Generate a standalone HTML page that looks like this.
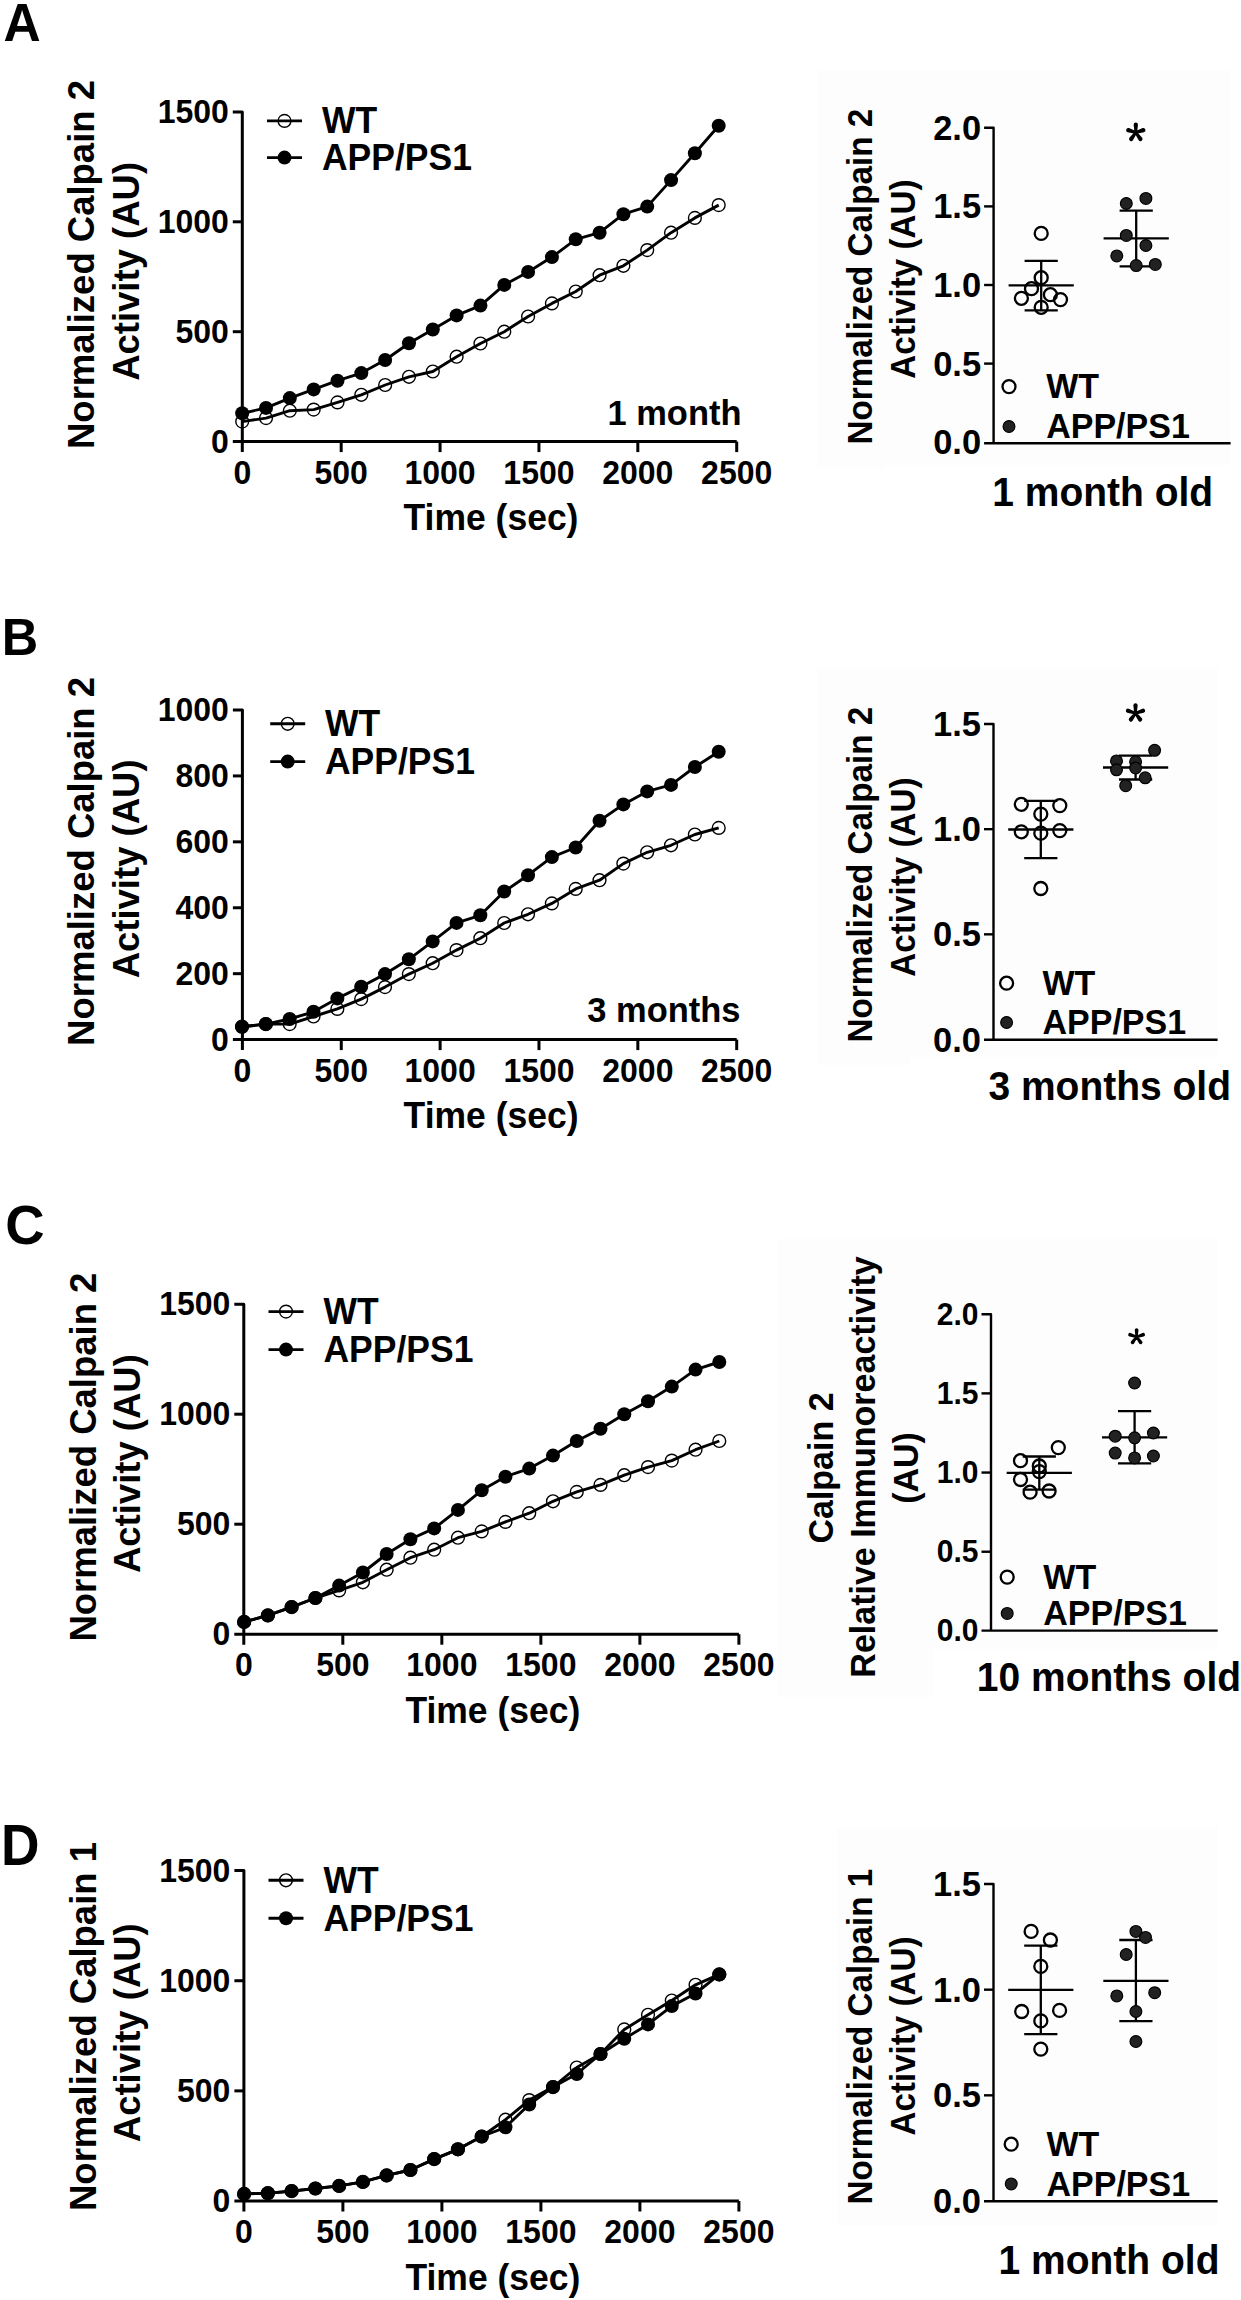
<!DOCTYPE html>
<html><head><meta charset="utf-8"><title>Figure</title>
<style>html,body{margin:0;padding:0;background:#fff;}svg{display:block;}
text{font-family:"Liberation Sans",sans-serif;font-weight:bold;}</style></head>
<body>
<svg width="1241" height="2300" viewBox="0 0 1241 2300" font-family="Liberation Sans, sans-serif" font-weight="bold" fill="#000">
<rect x="0" y="0" width="1241" height="2300" fill="#fff"/>
<rect x="817" y="70.5" width="414" height="394.5" fill="#fdfdfd"/>
<rect x="817" y="465" width="68" height="3" fill="#fdfdfd"/>
<rect x="817" y="668" width="401" height="389" fill="#fdfdfd"/>
<rect x="817" y="1057" width="93" height="8" fill="#fdfdfd"/>
<rect x="777.5" y="1239" width="440.5" height="410" fill="#fdfdfd"/>
<rect x="777.5" y="1649" width="155.5" height="48" fill="#fdfdfd"/>
<rect x="837" y="1827" width="381" height="399" fill="#fdfdfd"/>
<path d="M232.80,111.90 H242.30 V452.10" fill="none" stroke="#000" stroke-width="3.0" stroke-linejoin="round"/>
<line x1="232.80" y1="441.60" x2="736.70" y2="441.60" stroke="#000" stroke-width="3.0"/>
<text transform="translate(228.80,452.80) scale(1,1.035)" font-size="32" text-anchor="end">0</text>
<line x1="232.80" y1="331.70" x2="242.30" y2="331.70" stroke="#000" stroke-width="3.0"/>
<text transform="translate(228.80,342.90) scale(1,1.035)" font-size="32" text-anchor="end">500</text>
<line x1="232.80" y1="221.80" x2="242.30" y2="221.80" stroke="#000" stroke-width="3.0"/>
<text transform="translate(228.80,233.00) scale(1,1.035)" font-size="32" text-anchor="end">1000</text>
<text transform="translate(228.80,123.10) scale(1,1.035)" font-size="32" text-anchor="end">1500</text>
<text transform="translate(242.30,483.60) scale(1,1.035)" font-size="32" text-anchor="middle">0</text>
<line x1="341.18" y1="441.60" x2="341.18" y2="452.10" stroke="#000" stroke-width="3.0"/>
<text transform="translate(341.18,483.60) scale(1,1.035)" font-size="32" text-anchor="middle">500</text>
<line x1="440.06" y1="441.60" x2="440.06" y2="452.10" stroke="#000" stroke-width="3.0"/>
<text transform="translate(440.06,483.60) scale(1,1.035)" font-size="32" text-anchor="middle">1000</text>
<line x1="538.94" y1="441.60" x2="538.94" y2="452.10" stroke="#000" stroke-width="3.0"/>
<text transform="translate(538.94,483.60) scale(1,1.035)" font-size="32" text-anchor="middle">1500</text>
<line x1="637.82" y1="441.60" x2="637.82" y2="452.10" stroke="#000" stroke-width="3.0"/>
<text transform="translate(637.82,483.60) scale(1,1.035)" font-size="32" text-anchor="middle">2000</text>
<line x1="736.70" y1="441.60" x2="736.70" y2="452.10" stroke="#000" stroke-width="3.0"/>
<text transform="translate(736.70,483.60) scale(1,1.035)" font-size="32" text-anchor="middle">2500</text>
<text transform="translate(491.00,530.10) scale(1,1.035)" font-size="35.5" text-anchor="middle">Time (sec)</text>
<polyline points="242.20,421.60 266.02,418.10 289.85,410.70 313.68,409.60 337.50,402.40 361.32,394.80 385.15,385.00 408.98,376.80 432.80,371.50 456.62,356.70 480.45,343.50 504.28,331.70 528.10,316.50 551.92,303.40 575.75,291.50 599.58,275.20 623.40,265.80 647.23,250.10 671.05,232.70 694.88,217.90 718.70,205.10" fill="none" stroke="#000" stroke-width="2.9" stroke-linejoin="round"/>
<circle cx="242.20" cy="421.60" r="6.4" fill="none" stroke="#000" stroke-width="1.4"/>
<circle cx="266.02" cy="418.10" r="6.4" fill="none" stroke="#000" stroke-width="1.4"/>
<circle cx="289.85" cy="410.70" r="6.4" fill="none" stroke="#000" stroke-width="1.4"/>
<circle cx="313.68" cy="409.60" r="6.4" fill="none" stroke="#000" stroke-width="1.4"/>
<circle cx="337.50" cy="402.40" r="6.4" fill="none" stroke="#000" stroke-width="1.4"/>
<circle cx="361.32" cy="394.80" r="6.4" fill="none" stroke="#000" stroke-width="1.4"/>
<circle cx="385.15" cy="385.00" r="6.4" fill="none" stroke="#000" stroke-width="1.4"/>
<circle cx="408.98" cy="376.80" r="6.4" fill="none" stroke="#000" stroke-width="1.4"/>
<circle cx="432.80" cy="371.50" r="6.4" fill="none" stroke="#000" stroke-width="1.4"/>
<circle cx="456.62" cy="356.70" r="6.4" fill="none" stroke="#000" stroke-width="1.4"/>
<circle cx="480.45" cy="343.50" r="6.4" fill="none" stroke="#000" stroke-width="1.4"/>
<circle cx="504.28" cy="331.70" r="6.4" fill="none" stroke="#000" stroke-width="1.4"/>
<circle cx="528.10" cy="316.50" r="6.4" fill="none" stroke="#000" stroke-width="1.4"/>
<circle cx="551.92" cy="303.40" r="6.4" fill="none" stroke="#000" stroke-width="1.4"/>
<circle cx="575.75" cy="291.50" r="6.4" fill="none" stroke="#000" stroke-width="1.4"/>
<circle cx="599.58" cy="275.20" r="6.4" fill="none" stroke="#000" stroke-width="1.4"/>
<circle cx="623.40" cy="265.80" r="6.4" fill="none" stroke="#000" stroke-width="1.4"/>
<circle cx="647.23" cy="250.10" r="6.4" fill="none" stroke="#000" stroke-width="1.4"/>
<circle cx="671.05" cy="232.70" r="6.4" fill="none" stroke="#000" stroke-width="1.4"/>
<circle cx="694.88" cy="217.90" r="6.4" fill="none" stroke="#000" stroke-width="1.4"/>
<circle cx="718.70" cy="205.10" r="6.4" fill="none" stroke="#000" stroke-width="1.4"/>
<polyline points="242.20,413.30 266.02,407.90 289.85,398.10 313.68,389.40 337.50,380.70 361.32,373.10 385.15,360.00 408.98,343.30 432.80,329.50 456.62,315.40 480.45,305.60 504.28,284.90 528.10,271.90 551.92,257.10 575.75,239.30 599.58,232.70 623.40,214.20 647.23,206.60 671.05,180.10 694.88,153.30 718.70,125.70" fill="none" stroke="#000" stroke-width="2.9" stroke-linejoin="round"/>
<circle cx="242.20" cy="413.30" r="7.0" fill="#000" stroke="none" stroke-width="0"/>
<circle cx="266.02" cy="407.90" r="7.0" fill="#000" stroke="none" stroke-width="0"/>
<circle cx="289.85" cy="398.10" r="7.0" fill="#000" stroke="none" stroke-width="0"/>
<circle cx="313.68" cy="389.40" r="7.0" fill="#000" stroke="none" stroke-width="0"/>
<circle cx="337.50" cy="380.70" r="7.0" fill="#000" stroke="none" stroke-width="0"/>
<circle cx="361.32" cy="373.10" r="7.0" fill="#000" stroke="none" stroke-width="0"/>
<circle cx="385.15" cy="360.00" r="7.0" fill="#000" stroke="none" stroke-width="0"/>
<circle cx="408.98" cy="343.30" r="7.0" fill="#000" stroke="none" stroke-width="0"/>
<circle cx="432.80" cy="329.50" r="7.0" fill="#000" stroke="none" stroke-width="0"/>
<circle cx="456.62" cy="315.40" r="7.0" fill="#000" stroke="none" stroke-width="0"/>
<circle cx="480.45" cy="305.60" r="7.0" fill="#000" stroke="none" stroke-width="0"/>
<circle cx="504.28" cy="284.90" r="7.0" fill="#000" stroke="none" stroke-width="0"/>
<circle cx="528.10" cy="271.90" r="7.0" fill="#000" stroke="none" stroke-width="0"/>
<circle cx="551.92" cy="257.10" r="7.0" fill="#000" stroke="none" stroke-width="0"/>
<circle cx="575.75" cy="239.30" r="7.0" fill="#000" stroke="none" stroke-width="0"/>
<circle cx="599.58" cy="232.70" r="7.0" fill="#000" stroke="none" stroke-width="0"/>
<circle cx="623.40" cy="214.20" r="7.0" fill="#000" stroke="none" stroke-width="0"/>
<circle cx="647.23" cy="206.60" r="7.0" fill="#000" stroke="none" stroke-width="0"/>
<circle cx="671.05" cy="180.10" r="7.0" fill="#000" stroke="none" stroke-width="0"/>
<circle cx="694.88" cy="153.30" r="7.0" fill="#000" stroke="none" stroke-width="0"/>
<circle cx="718.70" cy="125.70" r="7.0" fill="#000" stroke="none" stroke-width="0"/>
<line x1="267.00" y1="120.90" x2="302.00" y2="120.90" stroke="#000" stroke-width="2.9"/>
<circle cx="284.50" cy="120.90" r="6.4" fill="none" stroke="#000" stroke-width="1.4"/>
<line x1="267.00" y1="157.60" x2="302.00" y2="157.60" stroke="#000" stroke-width="2.9"/>
<circle cx="284.50" cy="157.60" r="7.0" fill="#000" stroke="none" stroke-width="0"/>
<text transform="translate(322.00,133.40) scale(1,1.035)" font-size="35.5" text-anchor="start">WT</text>
<text transform="translate(322.00,170.40) scale(1,1.035)" font-size="35.5" text-anchor="start">APP/PS1</text>
<text transform="translate(741.50,425.00) scale(1,1.035)" font-size="34.5" text-anchor="end">1 month</text>
<text transform="translate(3.60,41.40) scale(1.0,1.035)" font-size="51.5">A</text>
<text transform="translate(94.40,264.50) rotate(-90) scale(1,1.035)" font-size="36.5" text-anchor="middle">Normalized Calpain 2</text>
<text transform="translate(138.70,271.40) rotate(-90) scale(1,1.035)" font-size="36.5" text-anchor="middle">Activity (AU)</text>
<path d="M232.90,710.00 H242.40 V1050.10" fill="none" stroke="#000" stroke-width="3.0" stroke-linejoin="round"/>
<line x1="232.90" y1="1039.60" x2="736.70" y2="1039.60" stroke="#000" stroke-width="3.0"/>
<text transform="translate(228.90,1050.80) scale(1,1.035)" font-size="32" text-anchor="end">0</text>
<line x1="232.90" y1="973.68" x2="242.40" y2="973.68" stroke="#000" stroke-width="3.0"/>
<text transform="translate(228.90,984.88) scale(1,1.035)" font-size="32" text-anchor="end">200</text>
<line x1="232.90" y1="907.76" x2="242.40" y2="907.76" stroke="#000" stroke-width="3.0"/>
<text transform="translate(228.90,918.96) scale(1,1.035)" font-size="32" text-anchor="end">400</text>
<line x1="232.90" y1="841.84" x2="242.40" y2="841.84" stroke="#000" stroke-width="3.0"/>
<text transform="translate(228.90,853.04) scale(1,1.035)" font-size="32" text-anchor="end">600</text>
<line x1="232.90" y1="775.92" x2="242.40" y2="775.92" stroke="#000" stroke-width="3.0"/>
<text transform="translate(228.90,787.12) scale(1,1.035)" font-size="32" text-anchor="end">800</text>
<text transform="translate(228.90,721.20) scale(1,1.035)" font-size="32" text-anchor="end">1000</text>
<text transform="translate(242.40,1081.60) scale(1,1.035)" font-size="32" text-anchor="middle">0</text>
<line x1="341.26" y1="1039.60" x2="341.26" y2="1050.10" stroke="#000" stroke-width="3.0"/>
<text transform="translate(341.26,1081.60) scale(1,1.035)" font-size="32" text-anchor="middle">500</text>
<line x1="440.12" y1="1039.60" x2="440.12" y2="1050.10" stroke="#000" stroke-width="3.0"/>
<text transform="translate(440.12,1081.60) scale(1,1.035)" font-size="32" text-anchor="middle">1000</text>
<line x1="538.98" y1="1039.60" x2="538.98" y2="1050.10" stroke="#000" stroke-width="3.0"/>
<text transform="translate(538.98,1081.60) scale(1,1.035)" font-size="32" text-anchor="middle">1500</text>
<line x1="637.84" y1="1039.60" x2="637.84" y2="1050.10" stroke="#000" stroke-width="3.0"/>
<text transform="translate(637.84,1081.60) scale(1,1.035)" font-size="32" text-anchor="middle">2000</text>
<line x1="736.70" y1="1039.60" x2="736.70" y2="1050.10" stroke="#000" stroke-width="3.0"/>
<text transform="translate(736.70,1081.60) scale(1,1.035)" font-size="32" text-anchor="middle">2500</text>
<text transform="translate(491.05,1128.10) scale(1,1.035)" font-size="35.5" text-anchor="middle">Time (sec)</text>
<polyline points="242.00,1026.70 265.83,1024.10 289.67,1024.10 313.50,1016.50 337.34,1008.90 361.18,999.10 385.01,987.10 408.85,974.10 432.68,963.20 456.51,950.10 480.35,938.20 504.19,923.00 528.02,914.30 551.86,903.40 575.69,888.90 599.53,880.20 623.36,863.60 647.19,852.30 671.03,845.30 694.87,834.50 718.70,827.90" fill="none" stroke="#000" stroke-width="2.9" stroke-linejoin="round"/>
<circle cx="242.00" cy="1026.70" r="6.4" fill="none" stroke="#000" stroke-width="1.4"/>
<circle cx="265.83" cy="1024.10" r="6.4" fill="none" stroke="#000" stroke-width="1.4"/>
<circle cx="289.67" cy="1024.10" r="6.4" fill="none" stroke="#000" stroke-width="1.4"/>
<circle cx="313.50" cy="1016.50" r="6.4" fill="none" stroke="#000" stroke-width="1.4"/>
<circle cx="337.34" cy="1008.90" r="6.4" fill="none" stroke="#000" stroke-width="1.4"/>
<circle cx="361.18" cy="999.10" r="6.4" fill="none" stroke="#000" stroke-width="1.4"/>
<circle cx="385.01" cy="987.10" r="6.4" fill="none" stroke="#000" stroke-width="1.4"/>
<circle cx="408.85" cy="974.10" r="6.4" fill="none" stroke="#000" stroke-width="1.4"/>
<circle cx="432.68" cy="963.20" r="6.4" fill="none" stroke="#000" stroke-width="1.4"/>
<circle cx="456.51" cy="950.10" r="6.4" fill="none" stroke="#000" stroke-width="1.4"/>
<circle cx="480.35" cy="938.20" r="6.4" fill="none" stroke="#000" stroke-width="1.4"/>
<circle cx="504.19" cy="923.00" r="6.4" fill="none" stroke="#000" stroke-width="1.4"/>
<circle cx="528.02" cy="914.30" r="6.4" fill="none" stroke="#000" stroke-width="1.4"/>
<circle cx="551.86" cy="903.40" r="6.4" fill="none" stroke="#000" stroke-width="1.4"/>
<circle cx="575.69" cy="888.90" r="6.4" fill="none" stroke="#000" stroke-width="1.4"/>
<circle cx="599.53" cy="880.20" r="6.4" fill="none" stroke="#000" stroke-width="1.4"/>
<circle cx="623.36" cy="863.60" r="6.4" fill="none" stroke="#000" stroke-width="1.4"/>
<circle cx="647.19" cy="852.30" r="6.4" fill="none" stroke="#000" stroke-width="1.4"/>
<circle cx="671.03" cy="845.30" r="6.4" fill="none" stroke="#000" stroke-width="1.4"/>
<circle cx="694.87" cy="834.50" r="6.4" fill="none" stroke="#000" stroke-width="1.4"/>
<circle cx="718.70" cy="827.90" r="6.4" fill="none" stroke="#000" stroke-width="1.4"/>
<polyline points="242.00,1026.70 265.83,1024.10 289.67,1019.00 313.50,1011.80 337.34,998.40 361.18,986.70 385.01,974.10 408.85,959.30 432.68,941.40 456.51,922.90 480.35,915.30 504.19,891.50 528.02,875.20 551.86,857.10 575.69,847.50 599.53,820.80 623.36,804.40 647.19,791.40 671.03,784.90 694.87,767.00 718.70,751.80" fill="none" stroke="#000" stroke-width="2.9" stroke-linejoin="round"/>
<circle cx="242.00" cy="1026.70" r="7.0" fill="#000" stroke="none" stroke-width="0"/>
<circle cx="265.83" cy="1024.10" r="7.0" fill="#000" stroke="none" stroke-width="0"/>
<circle cx="289.67" cy="1019.00" r="7.0" fill="#000" stroke="none" stroke-width="0"/>
<circle cx="313.50" cy="1011.80" r="7.0" fill="#000" stroke="none" stroke-width="0"/>
<circle cx="337.34" cy="998.40" r="7.0" fill="#000" stroke="none" stroke-width="0"/>
<circle cx="361.18" cy="986.70" r="7.0" fill="#000" stroke="none" stroke-width="0"/>
<circle cx="385.01" cy="974.10" r="7.0" fill="#000" stroke="none" stroke-width="0"/>
<circle cx="408.85" cy="959.30" r="7.0" fill="#000" stroke="none" stroke-width="0"/>
<circle cx="432.68" cy="941.40" r="7.0" fill="#000" stroke="none" stroke-width="0"/>
<circle cx="456.51" cy="922.90" r="7.0" fill="#000" stroke="none" stroke-width="0"/>
<circle cx="480.35" cy="915.30" r="7.0" fill="#000" stroke="none" stroke-width="0"/>
<circle cx="504.19" cy="891.50" r="7.0" fill="#000" stroke="none" stroke-width="0"/>
<circle cx="528.02" cy="875.20" r="7.0" fill="#000" stroke="none" stroke-width="0"/>
<circle cx="551.86" cy="857.10" r="7.0" fill="#000" stroke="none" stroke-width="0"/>
<circle cx="575.69" cy="847.50" r="7.0" fill="#000" stroke="none" stroke-width="0"/>
<circle cx="599.53" cy="820.80" r="7.0" fill="#000" stroke="none" stroke-width="0"/>
<circle cx="623.36" cy="804.40" r="7.0" fill="#000" stroke="none" stroke-width="0"/>
<circle cx="647.19" cy="791.40" r="7.0" fill="#000" stroke="none" stroke-width="0"/>
<circle cx="671.03" cy="784.90" r="7.0" fill="#000" stroke="none" stroke-width="0"/>
<circle cx="694.87" cy="767.00" r="7.0" fill="#000" stroke="none" stroke-width="0"/>
<circle cx="718.70" cy="751.80" r="7.0" fill="#000" stroke="none" stroke-width="0"/>
<line x1="270.20" y1="723.80" x2="305.20" y2="723.80" stroke="#000" stroke-width="2.9"/>
<circle cx="287.70" cy="723.80" r="6.4" fill="none" stroke="#000" stroke-width="1.4"/>
<line x1="270.20" y1="761.60" x2="305.20" y2="761.60" stroke="#000" stroke-width="2.9"/>
<circle cx="287.70" cy="761.60" r="7.0" fill="#000" stroke="none" stroke-width="0"/>
<text transform="translate(325.00,736.30) scale(1,1.035)" font-size="35.5" text-anchor="start">WT</text>
<text transform="translate(325.00,774.40) scale(1,1.035)" font-size="35.5" text-anchor="start">APP/PS1</text>
<text transform="translate(740.50,1022.00) scale(1,1.035)" font-size="34.5" text-anchor="end">3 months</text>
<text transform="translate(1.80,655.40) scale(1.0,1.035)" font-size="50.5">B</text>
<text transform="translate(94.40,861.40) rotate(-90) scale(1,1.035)" font-size="36.5" text-anchor="middle">Normalized Calpain 2</text>
<text transform="translate(138.70,868.90) rotate(-90) scale(1,1.035)" font-size="36.5" text-anchor="middle">Activity (AU)</text>
<path d="M234.30,1304.20 H243.80 V1644.70" fill="none" stroke="#000" stroke-width="3.0" stroke-linejoin="round"/>
<line x1="234.30" y1="1634.20" x2="738.90" y2="1634.20" stroke="#000" stroke-width="3.0"/>
<text transform="translate(230.30,1645.40) scale(1,1.035)" font-size="32" text-anchor="end">0</text>
<line x1="234.30" y1="1524.20" x2="243.80" y2="1524.20" stroke="#000" stroke-width="3.0"/>
<text transform="translate(230.30,1535.40) scale(1,1.035)" font-size="32" text-anchor="end">500</text>
<line x1="234.30" y1="1414.20" x2="243.80" y2="1414.20" stroke="#000" stroke-width="3.0"/>
<text transform="translate(230.30,1425.40) scale(1,1.035)" font-size="32" text-anchor="end">1000</text>
<text transform="translate(230.30,1315.40) scale(1,1.035)" font-size="32" text-anchor="end">1500</text>
<text transform="translate(243.80,1676.20) scale(1,1.035)" font-size="32" text-anchor="middle">0</text>
<line x1="342.82" y1="1634.20" x2="342.82" y2="1644.70" stroke="#000" stroke-width="3.0"/>
<text transform="translate(342.82,1676.20) scale(1,1.035)" font-size="32" text-anchor="middle">500</text>
<line x1="441.84" y1="1634.20" x2="441.84" y2="1644.70" stroke="#000" stroke-width="3.0"/>
<text transform="translate(441.84,1676.20) scale(1,1.035)" font-size="32" text-anchor="middle">1000</text>
<line x1="540.86" y1="1634.20" x2="540.86" y2="1644.70" stroke="#000" stroke-width="3.0"/>
<text transform="translate(540.86,1676.20) scale(1,1.035)" font-size="32" text-anchor="middle">1500</text>
<line x1="639.88" y1="1634.20" x2="639.88" y2="1644.70" stroke="#000" stroke-width="3.0"/>
<text transform="translate(639.88,1676.20) scale(1,1.035)" font-size="32" text-anchor="middle">2000</text>
<line x1="738.90" y1="1634.20" x2="738.90" y2="1644.70" stroke="#000" stroke-width="3.0"/>
<text transform="translate(738.90,1676.20) scale(1,1.035)" font-size="32" text-anchor="middle">2500</text>
<text transform="translate(492.85,1722.70) scale(1,1.035)" font-size="35.5" text-anchor="middle">Time (sec)</text>
<polyline points="244.10,1621.90 267.86,1615.40 291.62,1607.10 315.38,1598.00 339.14,1590.40 362.90,1582.30 386.66,1569.70 410.42,1557.70 434.18,1549.70 457.94,1537.70 481.70,1531.40 505.46,1521.90 529.22,1513.20 552.98,1501.30 576.74,1491.90 600.50,1484.90 624.26,1475.20 648.02,1467.10 671.78,1460.60 695.54,1449.70 719.30,1441.00" fill="none" stroke="#000" stroke-width="2.9" stroke-linejoin="round"/>
<circle cx="244.10" cy="1621.90" r="6.4" fill="none" stroke="#000" stroke-width="1.4"/>
<circle cx="267.86" cy="1615.40" r="6.4" fill="none" stroke="#000" stroke-width="1.4"/>
<circle cx="291.62" cy="1607.10" r="6.4" fill="none" stroke="#000" stroke-width="1.4"/>
<circle cx="315.38" cy="1598.00" r="6.4" fill="none" stroke="#000" stroke-width="1.4"/>
<circle cx="339.14" cy="1590.40" r="6.4" fill="none" stroke="#000" stroke-width="1.4"/>
<circle cx="362.90" cy="1582.30" r="6.4" fill="none" stroke="#000" stroke-width="1.4"/>
<circle cx="386.66" cy="1569.70" r="6.4" fill="none" stroke="#000" stroke-width="1.4"/>
<circle cx="410.42" cy="1557.70" r="6.4" fill="none" stroke="#000" stroke-width="1.4"/>
<circle cx="434.18" cy="1549.70" r="6.4" fill="none" stroke="#000" stroke-width="1.4"/>
<circle cx="457.94" cy="1537.70" r="6.4" fill="none" stroke="#000" stroke-width="1.4"/>
<circle cx="481.70" cy="1531.40" r="6.4" fill="none" stroke="#000" stroke-width="1.4"/>
<circle cx="505.46" cy="1521.90" r="6.4" fill="none" stroke="#000" stroke-width="1.4"/>
<circle cx="529.22" cy="1513.20" r="6.4" fill="none" stroke="#000" stroke-width="1.4"/>
<circle cx="552.98" cy="1501.30" r="6.4" fill="none" stroke="#000" stroke-width="1.4"/>
<circle cx="576.74" cy="1491.90" r="6.4" fill="none" stroke="#000" stroke-width="1.4"/>
<circle cx="600.50" cy="1484.90" r="6.4" fill="none" stroke="#000" stroke-width="1.4"/>
<circle cx="624.26" cy="1475.20" r="6.4" fill="none" stroke="#000" stroke-width="1.4"/>
<circle cx="648.02" cy="1467.10" r="6.4" fill="none" stroke="#000" stroke-width="1.4"/>
<circle cx="671.78" cy="1460.60" r="6.4" fill="none" stroke="#000" stroke-width="1.4"/>
<circle cx="695.54" cy="1449.70" r="6.4" fill="none" stroke="#000" stroke-width="1.4"/>
<circle cx="719.30" cy="1441.00" r="6.4" fill="none" stroke="#000" stroke-width="1.4"/>
<polyline points="244.10,1621.90 267.86,1615.40 291.62,1607.10 315.38,1598.00 339.14,1585.60 362.90,1572.50 386.66,1554.00 410.42,1539.30 434.18,1528.40 457.94,1509.90 481.70,1490.30 505.46,1476.70 529.22,1468.60 552.98,1455.60 576.74,1441.00 600.50,1428.80 624.26,1414.20 648.02,1401.20 671.78,1386.60 695.54,1369.60 719.30,1362.00" fill="none" stroke="#000" stroke-width="2.9" stroke-linejoin="round"/>
<circle cx="244.10" cy="1621.90" r="7.0" fill="#000" stroke="none" stroke-width="0"/>
<circle cx="267.86" cy="1615.40" r="7.0" fill="#000" stroke="none" stroke-width="0"/>
<circle cx="291.62" cy="1607.10" r="7.0" fill="#000" stroke="none" stroke-width="0"/>
<circle cx="315.38" cy="1598.00" r="7.0" fill="#000" stroke="none" stroke-width="0"/>
<circle cx="339.14" cy="1585.60" r="7.0" fill="#000" stroke="none" stroke-width="0"/>
<circle cx="362.90" cy="1572.50" r="7.0" fill="#000" stroke="none" stroke-width="0"/>
<circle cx="386.66" cy="1554.00" r="7.0" fill="#000" stroke="none" stroke-width="0"/>
<circle cx="410.42" cy="1539.30" r="7.0" fill="#000" stroke="none" stroke-width="0"/>
<circle cx="434.18" cy="1528.40" r="7.0" fill="#000" stroke="none" stroke-width="0"/>
<circle cx="457.94" cy="1509.90" r="7.0" fill="#000" stroke="none" stroke-width="0"/>
<circle cx="481.70" cy="1490.30" r="7.0" fill="#000" stroke="none" stroke-width="0"/>
<circle cx="505.46" cy="1476.70" r="7.0" fill="#000" stroke="none" stroke-width="0"/>
<circle cx="529.22" cy="1468.60" r="7.0" fill="#000" stroke="none" stroke-width="0"/>
<circle cx="552.98" cy="1455.60" r="7.0" fill="#000" stroke="none" stroke-width="0"/>
<circle cx="576.74" cy="1441.00" r="7.0" fill="#000" stroke="none" stroke-width="0"/>
<circle cx="600.50" cy="1428.80" r="7.0" fill="#000" stroke="none" stroke-width="0"/>
<circle cx="624.26" cy="1414.20" r="7.0" fill="#000" stroke="none" stroke-width="0"/>
<circle cx="648.02" cy="1401.20" r="7.0" fill="#000" stroke="none" stroke-width="0"/>
<circle cx="671.78" cy="1386.60" r="7.0" fill="#000" stroke="none" stroke-width="0"/>
<circle cx="695.54" cy="1369.60" r="7.0" fill="#000" stroke="none" stroke-width="0"/>
<circle cx="719.30" cy="1362.00" r="7.0" fill="#000" stroke="none" stroke-width="0"/>
<line x1="268.50" y1="1311.60" x2="303.50" y2="1311.60" stroke="#000" stroke-width="2.9"/>
<circle cx="286.00" cy="1311.60" r="6.4" fill="none" stroke="#000" stroke-width="1.4"/>
<line x1="268.50" y1="1349.60" x2="303.50" y2="1349.60" stroke="#000" stroke-width="2.9"/>
<circle cx="286.00" cy="1349.60" r="7.0" fill="#000" stroke="none" stroke-width="0"/>
<text transform="translate(323.50,1324.10) scale(1,1.035)" font-size="35.5" text-anchor="start">WT</text>
<text transform="translate(323.50,1362.40) scale(1,1.035)" font-size="35.5" text-anchor="start">APP/PS1</text>
<text transform="translate(5.30,1244.30) scale(1.0,1.035)" font-size="54.5">C</text>
<text transform="translate(96.00,1457.10) rotate(-90) scale(1,1.035)" font-size="36.5" text-anchor="middle">Normalized Calpain 2</text>
<text transform="translate(140.30,1463.60) rotate(-90) scale(1,1.035)" font-size="36.5" text-anchor="middle">Activity (AU)</text>
<path d="M234.40,1870.60 H243.90 V2211.50" fill="none" stroke="#000" stroke-width="3.0" stroke-linejoin="round"/>
<line x1="234.40" y1="2201.00" x2="738.90" y2="2201.00" stroke="#000" stroke-width="3.0"/>
<text transform="translate(230.40,2212.20) scale(1,1.035)" font-size="32" text-anchor="end">0</text>
<line x1="234.40" y1="2090.87" x2="243.90" y2="2090.87" stroke="#000" stroke-width="3.0"/>
<text transform="translate(230.40,2102.07) scale(1,1.035)" font-size="32" text-anchor="end">500</text>
<line x1="234.40" y1="1980.73" x2="243.90" y2="1980.73" stroke="#000" stroke-width="3.0"/>
<text transform="translate(230.40,1991.93) scale(1,1.035)" font-size="32" text-anchor="end">1000</text>
<text transform="translate(230.40,1881.80) scale(1,1.035)" font-size="32" text-anchor="end">1500</text>
<text transform="translate(243.90,2243.00) scale(1,1.035)" font-size="32" text-anchor="middle">0</text>
<line x1="342.90" y1="2201.00" x2="342.90" y2="2211.50" stroke="#000" stroke-width="3.0"/>
<text transform="translate(342.90,2243.00) scale(1,1.035)" font-size="32" text-anchor="middle">500</text>
<line x1="441.90" y1="2201.00" x2="441.90" y2="2211.50" stroke="#000" stroke-width="3.0"/>
<text transform="translate(441.90,2243.00) scale(1,1.035)" font-size="32" text-anchor="middle">1000</text>
<line x1="540.90" y1="2201.00" x2="540.90" y2="2211.50" stroke="#000" stroke-width="3.0"/>
<text transform="translate(540.90,2243.00) scale(1,1.035)" font-size="32" text-anchor="middle">1500</text>
<line x1="639.90" y1="2201.00" x2="639.90" y2="2211.50" stroke="#000" stroke-width="3.0"/>
<text transform="translate(639.90,2243.00) scale(1,1.035)" font-size="32" text-anchor="middle">2000</text>
<line x1="738.90" y1="2201.00" x2="738.90" y2="2211.50" stroke="#000" stroke-width="3.0"/>
<text transform="translate(738.90,2243.00) scale(1,1.035)" font-size="32" text-anchor="middle">2500</text>
<text transform="translate(492.90,2289.50) scale(1,1.035)" font-size="35.5" text-anchor="middle">Time (sec)</text>
<polyline points="244.10,2193.90 267.86,2193.20 291.62,2191.10 315.38,2188.50 339.14,2185.90 362.90,2181.90 386.66,2175.40 410.42,2170.00 434.18,2159.10 457.94,2149.30 481.70,2136.50 505.46,2119.70 529.22,2100.10 552.98,2087.10 576.74,2067.50 600.50,2054.00 624.26,2029.40 648.02,2014.80 671.78,2000.50 695.54,1984.80 719.30,1974.40" fill="none" stroke="#000" stroke-width="2.9" stroke-linejoin="round"/>
<circle cx="244.10" cy="2193.90" r="6.4" fill="none" stroke="#000" stroke-width="1.4"/>
<circle cx="267.86" cy="2193.20" r="6.4" fill="none" stroke="#000" stroke-width="1.4"/>
<circle cx="291.62" cy="2191.10" r="6.4" fill="none" stroke="#000" stroke-width="1.4"/>
<circle cx="315.38" cy="2188.50" r="6.4" fill="none" stroke="#000" stroke-width="1.4"/>
<circle cx="339.14" cy="2185.90" r="6.4" fill="none" stroke="#000" stroke-width="1.4"/>
<circle cx="362.90" cy="2181.90" r="6.4" fill="none" stroke="#000" stroke-width="1.4"/>
<circle cx="386.66" cy="2175.40" r="6.4" fill="none" stroke="#000" stroke-width="1.4"/>
<circle cx="410.42" cy="2170.00" r="6.4" fill="none" stroke="#000" stroke-width="1.4"/>
<circle cx="434.18" cy="2159.10" r="6.4" fill="none" stroke="#000" stroke-width="1.4"/>
<circle cx="457.94" cy="2149.30" r="6.4" fill="none" stroke="#000" stroke-width="1.4"/>
<circle cx="481.70" cy="2136.50" r="6.4" fill="none" stroke="#000" stroke-width="1.4"/>
<circle cx="505.46" cy="2119.70" r="6.4" fill="none" stroke="#000" stroke-width="1.4"/>
<circle cx="529.22" cy="2100.10" r="6.4" fill="none" stroke="#000" stroke-width="1.4"/>
<circle cx="552.98" cy="2087.10" r="6.4" fill="none" stroke="#000" stroke-width="1.4"/>
<circle cx="576.74" cy="2067.50" r="6.4" fill="none" stroke="#000" stroke-width="1.4"/>
<circle cx="600.50" cy="2054.00" r="6.4" fill="none" stroke="#000" stroke-width="1.4"/>
<circle cx="624.26" cy="2029.40" r="6.4" fill="none" stroke="#000" stroke-width="1.4"/>
<circle cx="648.02" cy="2014.80" r="6.4" fill="none" stroke="#000" stroke-width="1.4"/>
<circle cx="671.78" cy="2000.50" r="6.4" fill="none" stroke="#000" stroke-width="1.4"/>
<circle cx="695.54" cy="1984.80" r="6.4" fill="none" stroke="#000" stroke-width="1.4"/>
<circle cx="719.30" cy="1974.40" r="6.4" fill="none" stroke="#000" stroke-width="1.4"/>
<polyline points="244.10,2193.90 267.86,2193.20 291.62,2191.10 315.38,2188.50 339.14,2185.90 362.90,2181.90 386.66,2175.40 410.42,2170.00 434.18,2159.10 457.94,2149.30 481.70,2136.50 505.46,2127.30 529.22,2104.50 552.98,2087.10 576.74,2074.00 600.50,2054.00 624.26,2038.80 648.02,2024.40 671.78,2006.10 695.54,1993.50 719.30,1974.40" fill="none" stroke="#000" stroke-width="2.9" stroke-linejoin="round"/>
<circle cx="244.10" cy="2193.90" r="7.0" fill="#000" stroke="none" stroke-width="0"/>
<circle cx="267.86" cy="2193.20" r="7.0" fill="#000" stroke="none" stroke-width="0"/>
<circle cx="291.62" cy="2191.10" r="7.0" fill="#000" stroke="none" stroke-width="0"/>
<circle cx="315.38" cy="2188.50" r="7.0" fill="#000" stroke="none" stroke-width="0"/>
<circle cx="339.14" cy="2185.90" r="7.0" fill="#000" stroke="none" stroke-width="0"/>
<circle cx="362.90" cy="2181.90" r="7.0" fill="#000" stroke="none" stroke-width="0"/>
<circle cx="386.66" cy="2175.40" r="7.0" fill="#000" stroke="none" stroke-width="0"/>
<circle cx="410.42" cy="2170.00" r="7.0" fill="#000" stroke="none" stroke-width="0"/>
<circle cx="434.18" cy="2159.10" r="7.0" fill="#000" stroke="none" stroke-width="0"/>
<circle cx="457.94" cy="2149.30" r="7.0" fill="#000" stroke="none" stroke-width="0"/>
<circle cx="481.70" cy="2136.50" r="7.0" fill="#000" stroke="none" stroke-width="0"/>
<circle cx="505.46" cy="2127.30" r="7.0" fill="#000" stroke="none" stroke-width="0"/>
<circle cx="529.22" cy="2104.50" r="7.0" fill="#000" stroke="none" stroke-width="0"/>
<circle cx="552.98" cy="2087.10" r="7.0" fill="#000" stroke="none" stroke-width="0"/>
<circle cx="576.74" cy="2074.00" r="7.0" fill="#000" stroke="none" stroke-width="0"/>
<circle cx="600.50" cy="2054.00" r="7.0" fill="#000" stroke="none" stroke-width="0"/>
<circle cx="624.26" cy="2038.80" r="7.0" fill="#000" stroke="none" stroke-width="0"/>
<circle cx="648.02" cy="2024.40" r="7.0" fill="#000" stroke="none" stroke-width="0"/>
<circle cx="671.78" cy="2006.10" r="7.0" fill="#000" stroke="none" stroke-width="0"/>
<circle cx="695.54" cy="1993.50" r="7.0" fill="#000" stroke="none" stroke-width="0"/>
<circle cx="719.30" cy="1974.40" r="7.0" fill="#000" stroke="none" stroke-width="0"/>
<line x1="268.50" y1="1880.30" x2="303.50" y2="1880.30" stroke="#000" stroke-width="2.9"/>
<circle cx="286.00" cy="1880.30" r="6.4" fill="none" stroke="#000" stroke-width="1.4"/>
<line x1="268.50" y1="1918.30" x2="303.50" y2="1918.30" stroke="#000" stroke-width="2.9"/>
<circle cx="286.00" cy="1918.30" r="7.0" fill="#000" stroke="none" stroke-width="0"/>
<text transform="translate(323.50,1892.80) scale(1,1.035)" font-size="35.5" text-anchor="start">WT</text>
<text transform="translate(323.50,1931.10) scale(1,1.035)" font-size="35.5" text-anchor="start">APP/PS1</text>
<text transform="translate(1.00,1864.60) scale(0.97,1.035)" font-size="55">D</text>
<text transform="translate(96.00,2026.50) rotate(-90) scale(1,1.035)" font-size="36.5" text-anchor="middle">Normalized Calpain 1</text>
<text transform="translate(140.30,2032.70) rotate(-90) scale(1,1.035)" font-size="36.5" text-anchor="middle">Activity (AU)</text>
<path d="M984.10,127.80 H993.60 V443.20" fill="none" stroke="#000" stroke-width="2.4" stroke-linejoin="round"/>
<line x1="984.10" y1="443.20" x2="1230.60" y2="443.20" stroke="#000" stroke-width="2.4"/>
<text transform="translate(981.10,454.27) scale(1,1.035)" font-size="34.5" text-anchor="end">0.0</text>
<line x1="984.10" y1="363.60" x2="993.60" y2="363.60" stroke="#000" stroke-width="2.4"/>
<text transform="translate(981.10,375.68) scale(1,1.035)" font-size="34.5" text-anchor="end">0.5</text>
<line x1="984.10" y1="285.00" x2="993.60" y2="285.00" stroke="#000" stroke-width="2.4"/>
<text transform="translate(981.10,297.07) scale(1,1.035)" font-size="34.5" text-anchor="end">1.0</text>
<line x1="984.10" y1="206.40" x2="993.60" y2="206.40" stroke="#000" stroke-width="2.4"/>
<text transform="translate(981.10,218.47) scale(1,1.035)" font-size="34.5" text-anchor="end">1.5</text>
<text transform="translate(981.10,139.88) scale(1,1.035)" font-size="34.5" text-anchor="end">2.0</text>
<line x1="1008.60" y1="285.40" x2="1073.80" y2="285.40" stroke="#000" stroke-width="2.3"/>
<line x1="1041.20" y1="260.80" x2="1041.20" y2="310.40" stroke="#000" stroke-width="2.3"/>
<line x1="1024.60" y1="260.80" x2="1057.80" y2="260.80" stroke="#000" stroke-width="2.3"/>
<line x1="1024.60" y1="310.40" x2="1057.80" y2="310.40" stroke="#000" stroke-width="2.3"/>
<circle cx="1041.20" cy="233.40" r="6.5" fill="none" stroke="#000" stroke-width="2.3"/>
<circle cx="1041.20" cy="277.70" r="6.5" fill="none" stroke="#000" stroke-width="2.3"/>
<circle cx="1031.50" cy="288.70" r="6.5" fill="none" stroke="#000" stroke-width="2.3"/>
<circle cx="1021.40" cy="298.30" r="6.5" fill="none" stroke="#000" stroke-width="2.3"/>
<circle cx="1050.40" cy="294.70" r="6.5" fill="none" stroke="#000" stroke-width="2.3"/>
<circle cx="1060.50" cy="299.60" r="6.5" fill="none" stroke="#000" stroke-width="2.3"/>
<circle cx="1041.20" cy="307.30" r="6.5" fill="none" stroke="#000" stroke-width="2.3"/>
<line x1="1103.60" y1="238.30" x2="1168.80" y2="238.30" stroke="#000" stroke-width="2.3"/>
<line x1="1136.20" y1="210.70" x2="1136.20" y2="266.30" stroke="#000" stroke-width="2.3"/>
<line x1="1119.60" y1="210.70" x2="1152.80" y2="210.70" stroke="#000" stroke-width="2.3"/>
<line x1="1119.60" y1="266.30" x2="1152.80" y2="266.30" stroke="#000" stroke-width="2.3"/>
<circle cx="1126.30" cy="203.50" r="5.9" fill="#222" stroke="#000" stroke-width="1.2"/>
<circle cx="1145.90" cy="198.40" r="5.9" fill="#222" stroke="#000" stroke-width="1.2"/>
<circle cx="1126.30" cy="235.40" r="5.9" fill="#222" stroke="#000" stroke-width="1.2"/>
<circle cx="1145.90" cy="245.50" r="5.9" fill="#222" stroke="#000" stroke-width="1.2"/>
<circle cx="1116.80" cy="255.90" r="5.9" fill="#222" stroke="#000" stroke-width="1.2"/>
<circle cx="1136.20" cy="265.60" r="5.9" fill="#222" stroke="#000" stroke-width="1.2"/>
<circle cx="1155.30" cy="264.40" r="5.9" fill="#222" stroke="#000" stroke-width="1.2"/>
<path d="M1137.10,132.60 L1137.95,124.70 A2.15,2.15 0 0 0 1133.65,124.70 L1134.50,132.60 Z M1136.20,131.36 L1128.95,128.11 A2.15,2.15 0 0 0 1127.62,132.20 L1135.40,133.84 Z M1134.75,131.84 L1129.42,137.73 A2.15,2.15 0 0 0 1132.90,140.25 L1136.85,133.36 Z M1134.75,133.36 L1138.70,140.25 A2.15,2.15 0 0 0 1142.18,137.73 L1136.85,131.84 Z M1136.20,133.84 L1143.98,132.20 A2.15,2.15 0 0 0 1142.65,128.11 L1135.40,131.36 Z " fill="#000" fill-rule="nonzero"/>
<circle cx="1135.80" cy="132.60" r="1.90" fill="#000"/>
<circle cx="1009.00" cy="386.60" r="6.5" fill="none" stroke="#000" stroke-width="2.3"/>
<circle cx="1009.00" cy="426.50" r="5.9" fill="#222" stroke="#000" stroke-width="1.2"/>
<text transform="translate(1046.20,398.40) scale(1,1.035)" font-size="34" text-anchor="start">WT</text>
<text transform="translate(1046.20,438.30) scale(1,1.035)" font-size="34" text-anchor="start">APP/PS1</text>
<text transform="translate(1102.70,506.00) scale(1,1.035)" font-size="39" text-anchor="middle">1 month old</text>
<text transform="translate(871.60,276.70) rotate(-90) scale(1,1.035)" font-size="33.2" text-anchor="middle">Normalized Calpain 2</text>
<text transform="translate(915.00,279.10) rotate(-90) scale(1,1.035)" font-size="33.2" text-anchor="middle">Activity (AU)</text>
<path d="M984.00,724.00 H993.50 V1039.80" fill="none" stroke="#000" stroke-width="2.4" stroke-linejoin="round"/>
<line x1="984.00" y1="1039.80" x2="1217.60" y2="1039.80" stroke="#000" stroke-width="2.4"/>
<text transform="translate(981.00,1051.58) scale(1,1.035)" font-size="34.5" text-anchor="end">0.0</text>
<line x1="984.00" y1="934.33" x2="993.50" y2="934.33" stroke="#000" stroke-width="2.4"/>
<text transform="translate(981.00,946.41) scale(1,1.035)" font-size="34.5" text-anchor="end">0.5</text>
<line x1="984.00" y1="829.17" x2="993.50" y2="829.17" stroke="#000" stroke-width="2.4"/>
<text transform="translate(981.00,841.24) scale(1,1.035)" font-size="34.5" text-anchor="end">1.0</text>
<text transform="translate(981.00,736.08) scale(1,1.035)" font-size="34.5" text-anchor="end">1.5</text>
<line x1="1008.20" y1="829.50" x2="1073.40" y2="829.50" stroke="#000" stroke-width="2.3"/>
<line x1="1040.80" y1="800.80" x2="1040.80" y2="858.10" stroke="#000" stroke-width="2.3"/>
<line x1="1024.20" y1="800.80" x2="1057.40" y2="800.80" stroke="#000" stroke-width="2.3"/>
<line x1="1024.20" y1="858.10" x2="1057.40" y2="858.10" stroke="#000" stroke-width="2.3"/>
<circle cx="1021.30" cy="804.30" r="6.5" fill="none" stroke="#000" stroke-width="2.3"/>
<circle cx="1059.80" cy="805.60" r="6.5" fill="none" stroke="#000" stroke-width="2.3"/>
<circle cx="1040.80" cy="814.10" r="6.5" fill="none" stroke="#000" stroke-width="2.3"/>
<circle cx="1021.30" cy="831.80" r="6.5" fill="none" stroke="#000" stroke-width="2.3"/>
<circle cx="1040.80" cy="833.20" r="6.5" fill="none" stroke="#000" stroke-width="2.3"/>
<circle cx="1059.80" cy="830.60" r="6.5" fill="none" stroke="#000" stroke-width="2.3"/>
<circle cx="1040.80" cy="888.50" r="6.5" fill="none" stroke="#000" stroke-width="2.3"/>
<line x1="1103.00" y1="767.50" x2="1168.20" y2="767.50" stroke="#000" stroke-width="2.3"/>
<line x1="1135.60" y1="755.60" x2="1135.60" y2="779.50" stroke="#000" stroke-width="2.3"/>
<line x1="1119.00" y1="755.60" x2="1152.20" y2="755.60" stroke="#000" stroke-width="2.3"/>
<line x1="1119.00" y1="779.50" x2="1152.20" y2="779.50" stroke="#000" stroke-width="2.3"/>
<circle cx="1154.60" cy="750.30" r="5.9" fill="#222" stroke="#000" stroke-width="1.2"/>
<circle cx="1116.50" cy="760.90" r="5.9" fill="#222" stroke="#000" stroke-width="1.2"/>
<circle cx="1135.60" cy="761.80" r="5.9" fill="#222" stroke="#000" stroke-width="1.2"/>
<circle cx="1116.50" cy="769.80" r="5.9" fill="#222" stroke="#000" stroke-width="1.2"/>
<circle cx="1135.60" cy="768.00" r="5.9" fill="#222" stroke="#000" stroke-width="1.2"/>
<circle cx="1145.20" cy="777.80" r="5.9" fill="#222" stroke="#000" stroke-width="1.2"/>
<circle cx="1125.70" cy="785.70" r="5.9" fill="#222" stroke="#000" stroke-width="1.2"/>
<path d="M1136.80,713.20 L1137.65,705.30 A2.15,2.15 0 0 0 1133.35,705.30 L1134.20,713.20 Z M1135.90,711.96 L1128.65,708.71 A2.15,2.15 0 0 0 1127.32,712.80 L1135.10,714.44 Z M1134.45,712.44 L1129.12,718.33 A2.15,2.15 0 0 0 1132.60,720.85 L1136.55,713.96 Z M1134.45,713.96 L1138.40,720.85 A2.15,2.15 0 0 0 1141.88,718.33 L1136.55,712.44 Z M1135.90,714.44 L1143.68,712.80 A2.15,2.15 0 0 0 1142.35,708.71 L1135.10,711.96 Z " fill="#000" fill-rule="nonzero"/>
<circle cx="1135.50" cy="713.20" r="1.90" fill="#000"/>
<circle cx="1006.60" cy="983.20" r="6.5" fill="none" stroke="#000" stroke-width="2.3"/>
<circle cx="1006.60" cy="1022.50" r="5.9" fill="#222" stroke="#000" stroke-width="1.2"/>
<text transform="translate(1042.50,995.00) scale(1,1.035)" font-size="34" text-anchor="start">WT</text>
<text transform="translate(1042.50,1034.30) scale(1,1.035)" font-size="34" text-anchor="start">APP/PS1</text>
<text transform="translate(1109.70,1100.00) scale(1,1.035)" font-size="39" text-anchor="middle">3 months old</text>
<text transform="translate(871.60,874.70) rotate(-90) scale(1,1.035)" font-size="33.2" text-anchor="middle">Normalized Calpain 2</text>
<text transform="translate(915.00,877.10) rotate(-90) scale(1,1.035)" font-size="33.2" text-anchor="middle">Activity (AU)</text>
<path d="M981.50,1314.20 H991.00 V1630.60" fill="none" stroke="#000" stroke-width="2.4" stroke-linejoin="round"/>
<line x1="981.50" y1="1630.60" x2="1217.70" y2="1630.60" stroke="#000" stroke-width="2.4"/>
<text transform="translate(978.50,1641.40) scale(1,1.035)" font-size="30" text-anchor="end">0.0</text>
<line x1="981.50" y1="1551.73" x2="991.00" y2="1551.73" stroke="#000" stroke-width="2.4"/>
<text transform="translate(978.50,1562.23) scale(1,1.035)" font-size="30" text-anchor="end">0.5</text>
<line x1="981.50" y1="1472.55" x2="991.00" y2="1472.55" stroke="#000" stroke-width="2.4"/>
<text transform="translate(978.50,1483.05) scale(1,1.035)" font-size="30" text-anchor="end">1.0</text>
<line x1="981.50" y1="1393.38" x2="991.00" y2="1393.38" stroke="#000" stroke-width="2.4"/>
<text transform="translate(978.50,1403.88) scale(1,1.035)" font-size="30" text-anchor="end">1.5</text>
<text transform="translate(978.50,1324.70) scale(1,1.035)" font-size="30" text-anchor="end">2.0</text>
<line x1="1006.70" y1="1472.80" x2="1071.90" y2="1472.80" stroke="#000" stroke-width="2.3"/>
<line x1="1039.30" y1="1456.50" x2="1039.30" y2="1489.60" stroke="#000" stroke-width="2.3"/>
<line x1="1022.70" y1="1456.50" x2="1055.90" y2="1456.50" stroke="#000" stroke-width="2.3"/>
<line x1="1022.70" y1="1489.60" x2="1055.90" y2="1489.60" stroke="#000" stroke-width="2.3"/>
<circle cx="1058.30" cy="1447.60" r="6.5" fill="none" stroke="#000" stroke-width="2.3"/>
<circle cx="1020.50" cy="1460.70" r="6.5" fill="none" stroke="#000" stroke-width="2.3"/>
<circle cx="1039.30" cy="1466.00" r="6.5" fill="none" stroke="#000" stroke-width="2.3"/>
<circle cx="1039.30" cy="1471.60" r="6.5" fill="none" stroke="#000" stroke-width="2.3"/>
<circle cx="1020.50" cy="1479.50" r="6.5" fill="none" stroke="#000" stroke-width="2.3"/>
<circle cx="1030.10" cy="1492.20" r="6.5" fill="none" stroke="#000" stroke-width="2.3"/>
<circle cx="1049.10" cy="1491.00" r="6.5" fill="none" stroke="#000" stroke-width="2.3"/>
<line x1="1102.00" y1="1437.30" x2="1167.20" y2="1437.30" stroke="#000" stroke-width="2.3"/>
<line x1="1134.60" y1="1411.20" x2="1134.60" y2="1463.30" stroke="#000" stroke-width="2.3"/>
<line x1="1118.00" y1="1411.20" x2="1151.20" y2="1411.20" stroke="#000" stroke-width="2.3"/>
<line x1="1118.00" y1="1463.30" x2="1151.20" y2="1463.30" stroke="#000" stroke-width="2.3"/>
<circle cx="1134.60" cy="1383.00" r="5.9" fill="#222" stroke="#000" stroke-width="1.2"/>
<circle cx="1115.20" cy="1436.20" r="5.9" fill="#222" stroke="#000" stroke-width="1.2"/>
<circle cx="1134.60" cy="1437.80" r="5.9" fill="#222" stroke="#000" stroke-width="1.2"/>
<circle cx="1153.40" cy="1433.00" r="5.9" fill="#222" stroke="#000" stroke-width="1.2"/>
<circle cx="1115.20" cy="1453.10" r="5.9" fill="#222" stroke="#000" stroke-width="1.2"/>
<circle cx="1134.60" cy="1457.90" r="5.9" fill="#222" stroke="#000" stroke-width="1.2"/>
<circle cx="1153.40" cy="1456.00" r="5.9" fill="#222" stroke="#000" stroke-width="1.2"/>
<path d="M1137.73,1336.90 L1138.47,1330.03 A1.87,1.87 0 0 0 1134.73,1330.03 L1135.47,1336.90 Z M1136.95,1335.82 L1130.64,1333.00 A1.87,1.87 0 0 0 1129.49,1336.56 L1136.25,1337.98 Z M1135.69,1336.24 L1131.05,1341.36 A1.87,1.87 0 0 0 1134.07,1343.56 L1137.51,1337.56 Z M1135.69,1337.56 L1139.13,1343.56 A1.87,1.87 0 0 0 1142.15,1341.36 L1137.51,1336.24 Z M1136.95,1337.98 L1143.71,1336.56 A1.87,1.87 0 0 0 1142.56,1333.00 L1136.25,1335.82 Z " fill="#000" fill-rule="nonzero"/>
<circle cx="1136.60" cy="1336.90" r="1.65" fill="#000"/>
<circle cx="1007.20" cy="1577.10" r="6.5" fill="none" stroke="#000" stroke-width="2.3"/>
<circle cx="1007.20" cy="1613.40" r="5.9" fill="#222" stroke="#000" stroke-width="1.2"/>
<text transform="translate(1043.30,1588.90) scale(1,1.035)" font-size="34" text-anchor="start">WT</text>
<text transform="translate(1043.30,1625.20) scale(1,1.035)" font-size="34" text-anchor="start">APP/PS1</text>
<text transform="translate(1108.90,1690.50) scale(1,1.035)" font-size="39" text-anchor="middle">10 months old</text>
<text transform="translate(832.60,1468.00) rotate(-90) scale(1,1.035)" font-size="34" text-anchor="middle">Calpain 2</text>
<text transform="translate(875.20,1467.00) rotate(-90) scale(1,1.035)" font-size="34" text-anchor="middle">Relative Immunoreactivity</text>
<text transform="translate(917.80,1468.00) rotate(-90) scale(1,1.035)" font-size="34" text-anchor="middle">(AU)</text>
<path d="M984.00,1884.00 H993.50 V2201.20" fill="none" stroke="#000" stroke-width="2.4" stroke-linejoin="round"/>
<line x1="984.00" y1="2201.20" x2="1217.60" y2="2201.20" stroke="#000" stroke-width="2.4"/>
<text transform="translate(981.00,2213.07) scale(1,1.035)" font-size="34.5" text-anchor="end">0.0</text>
<line x1="984.00" y1="2095.33" x2="993.50" y2="2095.33" stroke="#000" stroke-width="2.4"/>
<text transform="translate(981.00,2107.41) scale(1,1.035)" font-size="34.5" text-anchor="end">0.5</text>
<line x1="984.00" y1="1989.67" x2="993.50" y2="1989.67" stroke="#000" stroke-width="2.4"/>
<text transform="translate(981.00,2001.74) scale(1,1.035)" font-size="34.5" text-anchor="end">1.0</text>
<text transform="translate(981.00,1896.08) scale(1,1.035)" font-size="34.5" text-anchor="end">1.5</text>
<line x1="1008.20" y1="1989.90" x2="1073.40" y2="1989.90" stroke="#000" stroke-width="2.3"/>
<line x1="1040.80" y1="1945.60" x2="1040.80" y2="2034.20" stroke="#000" stroke-width="2.3"/>
<line x1="1024.20" y1="1945.60" x2="1057.40" y2="1945.60" stroke="#000" stroke-width="2.3"/>
<line x1="1024.20" y1="2034.20" x2="1057.40" y2="2034.20" stroke="#000" stroke-width="2.3"/>
<circle cx="1031.10" cy="1931.40" r="6.5" fill="none" stroke="#000" stroke-width="2.3"/>
<circle cx="1050.40" cy="1940.00" r="6.5" fill="none" stroke="#000" stroke-width="2.3"/>
<circle cx="1040.80" cy="1966.40" r="6.5" fill="none" stroke="#000" stroke-width="2.3"/>
<circle cx="1021.70" cy="2011.50" r="6.5" fill="none" stroke="#000" stroke-width="2.3"/>
<circle cx="1059.60" cy="2010.40" r="6.5" fill="none" stroke="#000" stroke-width="2.3"/>
<circle cx="1040.80" cy="2020.90" r="6.5" fill="none" stroke="#000" stroke-width="2.3"/>
<circle cx="1040.80" cy="2049.10" r="6.5" fill="none" stroke="#000" stroke-width="2.3"/>
<line x1="1103.30" y1="1980.90" x2="1168.50" y2="1980.90" stroke="#000" stroke-width="2.3"/>
<line x1="1135.90" y1="1940.00" x2="1135.90" y2="2021.20" stroke="#000" stroke-width="2.3"/>
<line x1="1119.30" y1="1940.00" x2="1152.50" y2="1940.00" stroke="#000" stroke-width="2.3"/>
<line x1="1119.30" y1="2021.20" x2="1152.50" y2="2021.20" stroke="#000" stroke-width="2.3"/>
<circle cx="1135.90" cy="1931.40" r="5.9" fill="#222" stroke="#000" stroke-width="1.2"/>
<circle cx="1145.50" cy="1937.40" r="5.9" fill="#222" stroke="#000" stroke-width="1.2"/>
<circle cx="1126.20" cy="1954.50" r="5.9" fill="#222" stroke="#000" stroke-width="1.2"/>
<circle cx="1116.80" cy="1995.90" r="5.9" fill="#222" stroke="#000" stroke-width="1.2"/>
<circle cx="1154.70" cy="1992.70" r="5.9" fill="#222" stroke="#000" stroke-width="1.2"/>
<circle cx="1135.90" cy="2011.50" r="5.9" fill="#222" stroke="#000" stroke-width="1.2"/>
<circle cx="1135.90" cy="2041.50" r="5.9" fill="#222" stroke="#000" stroke-width="1.2"/>
<circle cx="1011.20" cy="2144.20" r="6.5" fill="none" stroke="#000" stroke-width="2.3"/>
<circle cx="1011.20" cy="2183.90" r="5.9" fill="#222" stroke="#000" stroke-width="1.2"/>
<text transform="translate(1046.50,2156.00) scale(1,1.035)" font-size="34" text-anchor="start">WT</text>
<text transform="translate(1046.50,2195.70) scale(1,1.035)" font-size="34" text-anchor="start">APP/PS1</text>
<text transform="translate(1109.00,2273.50) scale(1,1.035)" font-size="39" text-anchor="middle">1 month old</text>
<text transform="translate(871.60,2036.70) rotate(-90) scale(1,1.035)" font-size="33.2" text-anchor="middle">Normalized Calpain 1</text>
<text transform="translate(915.00,2036.00) rotate(-90) scale(1,1.035)" font-size="33.2" text-anchor="middle">Activity (AU)</text>
</svg>
</body></html>
